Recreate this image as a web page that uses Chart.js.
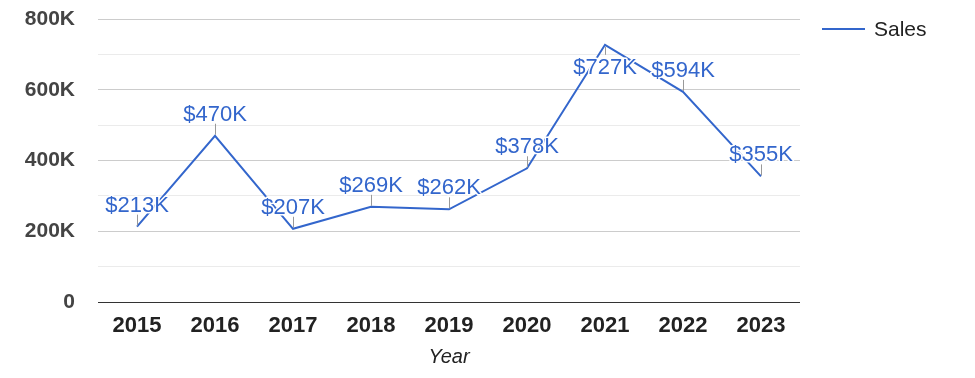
<!DOCTYPE html>
<html>
<head>
<meta charset="utf-8">
<script src="https://cdn.jsdelivr.net/npm/chart.js@4/dist/chart.umd.min.js"></script>
<style>
  html, body { margin: 0; padding: 0; background: #fff; }
</style>
</head>
<body>
<canvas id="chart" width="975" height="378"></canvas>
<script>
var years = ['2015', '2016', '2017', '2018', '2019', '2020', '2021', '2022', '2023'];
var sales = [213000, 470000, 207000, 269000, 262000, 378000, 727000, 594000, 355000];
var seriesName = 'Sales';
var yTicks = [0, 200000, 400000, 600000, 800000];

var lineColor = '#3366cc';
var fontFamily = 'Arial, "Liberation Sans", sans-serif';

function kLabel(v) {
  return v === 0 ? '0' : (v / 1000) + 'K';
}

// value labels with a small leader line, like the annotations in the original
var annotations = {
  id: 'annotations',
  afterDatasetsDraw: function(chart) {
    var ctx = chart.ctx;
    var meta = chart.getDatasetMeta(0);
    var top = chart.chartArea.top;
    ctx.save();
    ctx.font = '22px ' + fontFamily;
    ctx.textAlign = 'center';
    meta.data.forEach(function(pt, i) {
      // flip below the point when there is no room above
      var below = pt.y - 40 < top;
      var x = Math.round(pt.x) + 0.5;
      ctx.strokeStyle = '#999';
      ctx.lineWidth = 1;
      ctx.beginPath();
      if (below) {
        ctx.moveTo(x, pt.y + 2);
        ctx.lineTo(x, pt.y + 10);
      } else {
        ctx.moveTo(x, pt.y - 12);
        ctx.lineTo(x, pt.y - 1);
      }
      ctx.stroke();

      var txt = '$' + Math.round(sales[i] / 1000) + 'K';
      var ty = below ? pt.y + 29 : pt.y - 15;
      ctx.textBaseline = 'alphabetic';
      ctx.strokeStyle = '#fff';
      ctx.lineWidth = 3;
      ctx.lineJoin = 'round';
      ctx.strokeText(txt, pt.x, ty);
      ctx.fillStyle = lineColor;
      ctx.fillText(txt, pt.x, ty);
    });
    ctx.restore();
  },
  afterDraw: function(chart) {
    // legend on the right
    var ctx = chart.ctx;
    var x0 = chart.chartArea.right + 22;
    var y0 = 29;
    ctx.save();
    ctx.strokeStyle = lineColor;
    ctx.lineWidth = 2;
    ctx.beginPath();
    ctx.moveTo(x0, y0);
    ctx.lineTo(x0 + 43, y0);
    ctx.stroke();
    ctx.fillStyle = '#222';
    ctx.font = '21px ' + fontFamily;
    ctx.textAlign = 'left';
    ctx.textBaseline = 'middle';
    ctx.fillText(seriesName, x0 + 52, y0 + 1);
    ctx.restore();
  }
};

var ctx = document.getElementById('chart').getContext('2d');

new Chart(ctx, {
  type: 'line',
  data: {
    labels: years,
    datasets: [{
      label: seriesName,
      data: sales,
      borderColor: lineColor,
      borderWidth: 2,
      pointRadius: 0,
      tension: 0,
      fill: false
    }]
  },
  options: {
    responsive: false,
    animation: false,
    devicePixelRatio: 1,
    layout: { padding: { top: 19, right: 175, bottom: 0, left: 0 } },
    plugins: {
      legend: { display: false },
      tooltip: { enabled: false }
    },
    scales: {
      x: {
        offset: true,
        grid: { display: false },
        border: { display: false },
        ticks: {
          color: '#222',
          font: { family: fontFamily, size: 22, weight: 'bold' },
          padding: 3
        },
        title: {
          display: true,
          text: 'Year',
          color: '#222',
          font: { family: fontFamily, size: 20, style: 'italic' },
          padding: { top: 4, bottom: 9 }
        },
        afterFit: function(scale) { scale.height = 76; }
      },
      y: {
        min: 0,
        max: 800000,
        grid: {
          drawTicks: false,
          color: function(c) {
            if (c.tick.value === 0) return '#333';
            return yTicks.indexOf(c.tick.value) >= 0 ? '#cccccc' : '#ebebeb';
          }
        },
        border: { display: false },
        ticks: {
          stepSize: 100000,
          autoSkip: false,
          padding: 23,
          color: '#444',
          font: { family: fontFamily, size: 21, weight: 'bold' },
          callback: function(v) {
            return yTicks.indexOf(v) >= 0 ? kLabel(v) : '';
          }
        },
        afterFit: function(scale) {
          scale.width = 98;
          scale.paddingTop = 0;
          scale.paddingBottom = 0;
        }
      }
    }
  },
  plugins: [annotations]
});
</script>
</body>
</html>
